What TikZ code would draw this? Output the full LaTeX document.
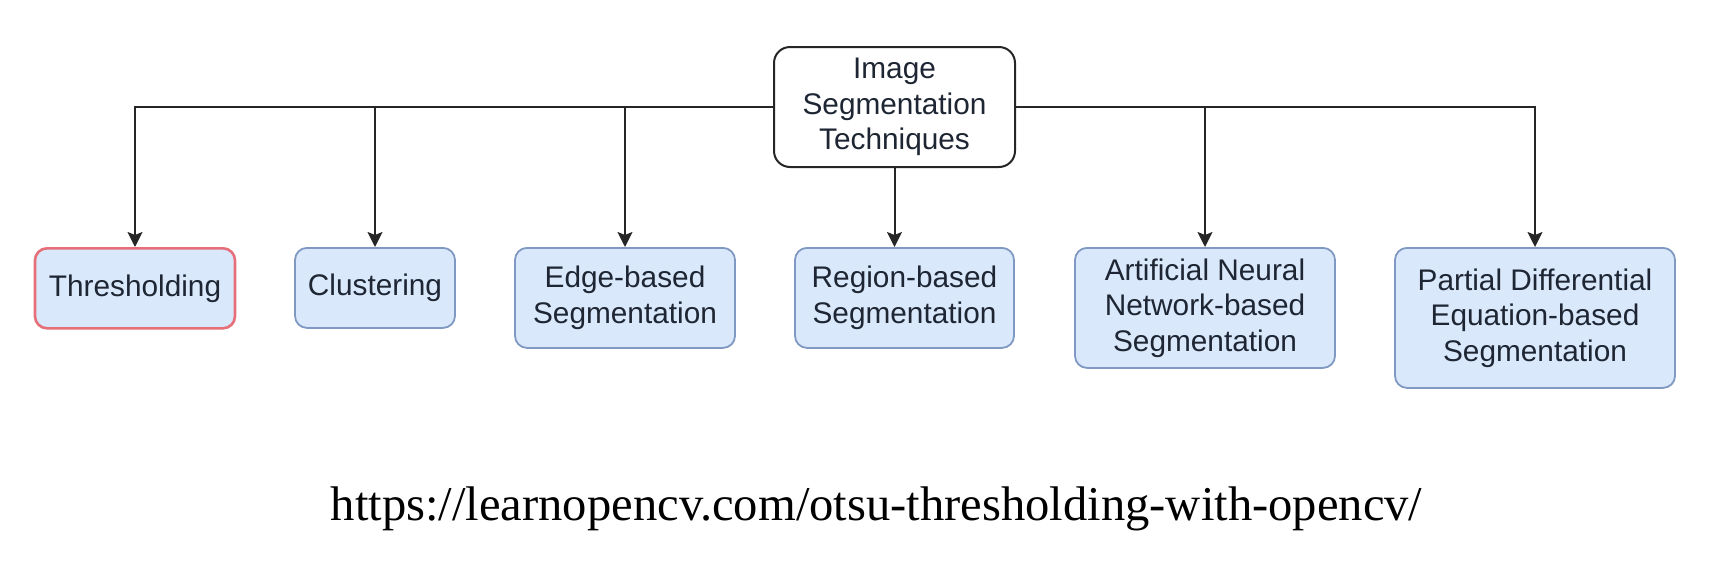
\documentclass[tikz,border=0pt]{standalone}
\usepackage{fontspec}
\setmainfont{Liberation Serif}
\newfontfamily\boxfont{Liberation Sans}
\usepackage{tikz}
\usetikzlibrary{shapes,arrows.meta,calc,positioning}
\definecolor{boxblue}{HTML}{DAE8FC}
\definecolor{boxline}{HTML}{7F99C2}
\definecolor{boxred}{HTML}{E5707A}
\definecolor{txtdark}{HTML}{1E2633}
\tikzstyle{arrow} = [line width=1pt, draw=black!85, -{Stealth[length=7.5pt,width=7.5pt,inset=1.5pt]}]
\tikzstyle{method} = [rectangle, rounded corners=6pt, draw=boxline, fill=boxblue, line width=0.9pt, align=center, anchor=north, text=txtdark, inner sep=0pt, font=\boxfont\fontsize{14.9}{17.75}\selectfont]
\tikzstyle{topbox} = [rectangle, rounded corners=8pt, draw=black!85, fill=white, line width=1pt, align=center, text=txtdark, inner sep=0pt, font=\boxfont\fontsize{14.9}{17.75}\selectfont]

\begin{document}
\begin{tikzpicture}[x=0.5pt,y=-0.5pt]
\useasboundingbox (0,0) rectangle (1710,574);

\node[topbox, minimum width=120.5pt, minimum height=60pt] (root) at (894.5,107) {Image\\Segmentation\\Techniques};

\node[method, draw=boxred, line width=1.3pt, minimum width=100pt, minimum height=40pt] (thresh) at (135,247) {Thresholding};
\node[method, minimum width=80pt, minimum height=40pt] (clust) at (375,247) {Clustering};
\node[method, minimum width=110pt, minimum height=50pt] (edge) at (625,247) {Edge-based\\Segmentation};
\node[method, minimum width=109.5pt, minimum height=50pt] (region) at (904.5,247) {Region-based\\Segmentation};
\node[method, minimum width=130pt, minimum height=60pt] (ann) at (1205,247) {Artificial Neural\\Network-based\\Segmentation};
\node[method, minimum width=140pt, minimum height=70pt] (pde) at (1535,247) {Partial Differential\\Equation-based\\Segmentation};

\draw[arrow] (root.west) -| (thresh.north);
\draw[arrow] (root.west) -| (clust.north);
\draw[arrow] (root.west) -| (edge.north);
\draw[arrow] (root.south) -- (root.south |- region.north);
\draw[arrow] (root.east) -| (ann.north);
\draw[arrow] (root.east) -| (pde.north);

\node[anchor=base] (url) at (876.5,520) {\fontsize{24.3}{29}\selectfont https://learnopencv.com/otsu-thresholding-with-opencv/};
\end{tikzpicture}
\end{document}
